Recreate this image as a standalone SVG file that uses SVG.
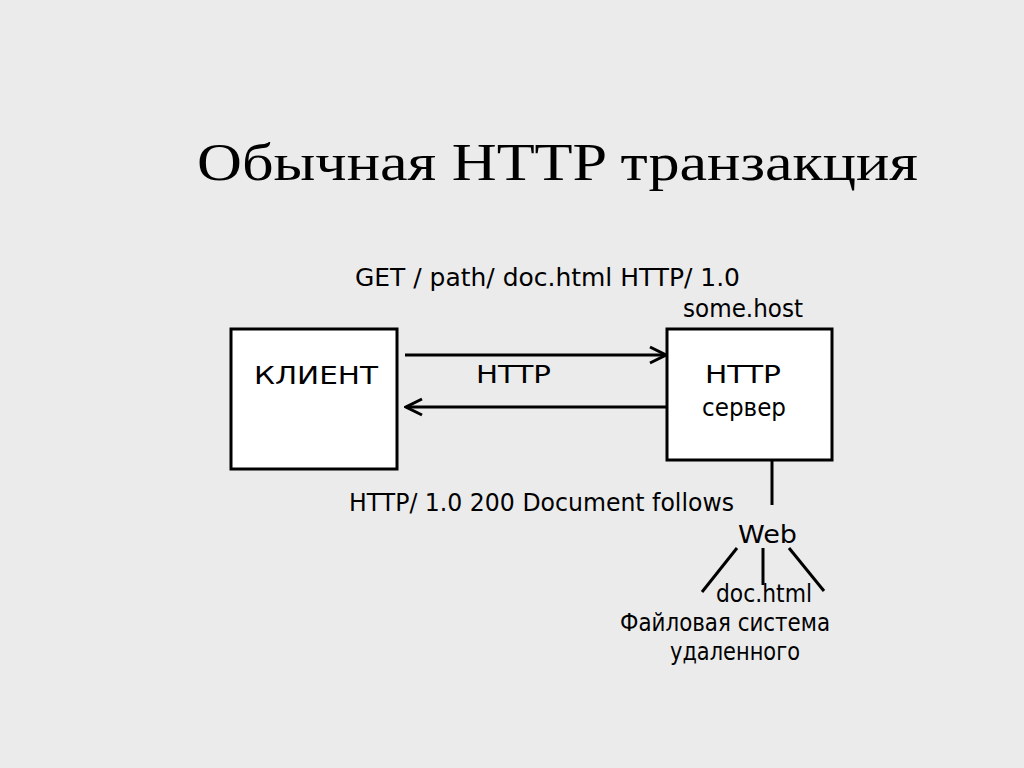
<svg xmlns="http://www.w3.org/2000/svg" width="1024" height="768" viewBox="0 0 1024 768">
<defs>
<style>
.t{font-family:"DejaVu Sans","Liberation Sans",sans-serif;font-size:25px;fill:#000}
.box{fill:#fff;stroke:#000;stroke-width:3}
.ln{stroke:#000;stroke-width:3;fill:none}
</style>
<marker id="ah" viewBox="0 0 20 20" refX="18" refY="10" markerWidth="20" markerHeight="20" markerUnits="userSpaceOnUse" orient="auto">
<path d="M2,2 L18,10 L2,18" fill="none" stroke="#000" stroke-width="3"/>
</marker>
</defs>
<rect width="1024" height="768" fill="#ebebeb"/>
<text x="197" y="180" font-family="Liberation Serif,serif" font-size="52" textLength="721" lengthAdjust="spacingAndGlyphs">Обычная HTTP транзакция</text>
<g id="labels">
<text class="t" x="355" y="286" font-size="26" textLength="385" lengthAdjust="spacingAndGlyphs">GET / path/ doc.html HTTP/ 1.0</text>
<text class="t" x="683" y="317" textLength="120" lengthAdjust="spacingAndGlyphs">some.host</text>
<text class="t" x="476" y="383" font-size="28" textLength="75" lengthAdjust="spacingAndGlyphs">HTTP</text>
<text class="t" x="349" y="511" textLength="385" lengthAdjust="spacingAndGlyphs">HTTP/ 1.0 200 Document follows</text>
</g>
<g id="client">
<rect class="box" x="231" y="329" width="166" height="140"/>
<text class="t" x="254" y="384" font-size="23" textLength="124" lengthAdjust="spacingAndGlyphs">КЛИЕНТ</text>
</g>
<g id="server">
<rect class="box" x="667" y="329" width="165" height="131"/>
<text class="t" x="705" y="383" font-size="27" textLength="76" lengthAdjust="spacingAndGlyphs">HTTP</text>
<text class="t" x="702" y="416" font-size="27" textLength="84" lengthAdjust="spacingAndGlyphs">сервер</text>
</g>
<g id="web">
<text class="t" x="738" y="543" font-size="26" textLength="59" lengthAdjust="spacingAndGlyphs">Web</text>
</g>
<g id="files">
<text class="t" x="716" y="602" font-size="24" textLength="96" lengthAdjust="spacingAndGlyphs">doc.html</text>
<text class="t" x="620" y="631" font-size="23" textLength="210" lengthAdjust="spacingAndGlyphs">Файловая система</text>
<text class="t" x="670" y="660" font-size="23" textLength="130" lengthAdjust="spacingAndGlyphs">удаленного</text>
</g>
<g id="connectors">
<line class="ln" x1="405" y1="355" x2="666" y2="355" marker-end="url(#ah)"/>
<line class="ln" x1="667" y1="407" x2="406" y2="407" marker-end="url(#ah)"/>
<line class="ln" x1="772" y1="460" x2="772" y2="505"/>
<line class="ln" x1="737" y1="548" x2="702" y2="592"/>
<line class="ln" x1="763" y1="548" x2="763" y2="585"/>
<line class="ln" x1="789" y1="548" x2="824" y2="591"/>
</g>
</svg>
